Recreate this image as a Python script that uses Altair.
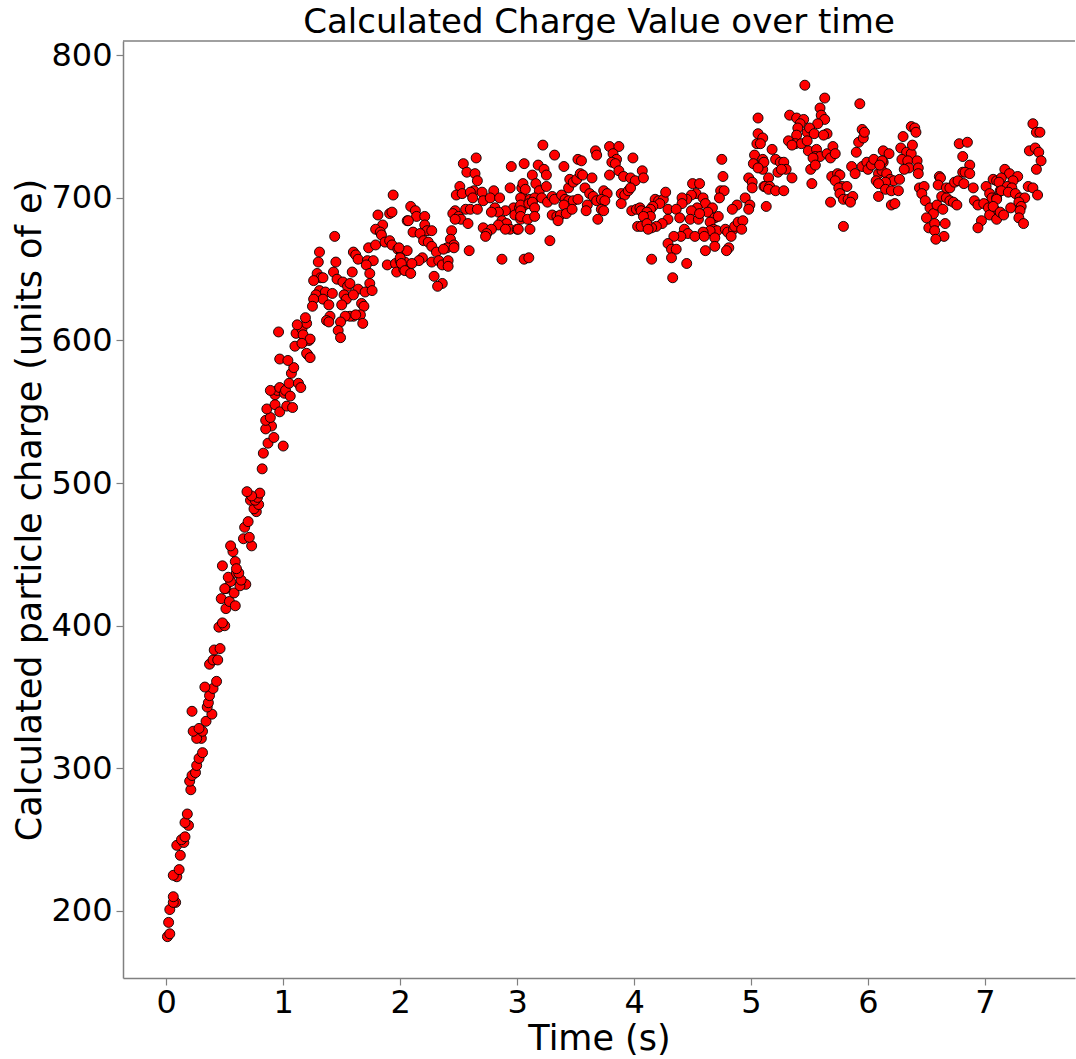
import altair as alt
import pandas as pd

# (time in s, charge in units of e), grouped by time span
seg_a = [(0.01,182),(0.03,184),(0.02,192),(0.03,201),(0.08,206),(0.06,206),(0.06,210),(0.09,224),(0.06,225),(0.11,229),
         (0.12,239),(0.09,246),(0.15,248),(0.13,250),(0.16,252),(0.19,260),(0.16,262),(0.18,268),(0.21,285),(0.20,291),
         (0.22,295),(0.25,297),(0.26,302),(0.28,307),(0.31,311),(0.30,321),(0.26,321),(0.23,326),(0.31,326),(0.28,328),
         (0.22,340),(0.34,333),(0.39,338),(0.35,343),(0.36,346),(0.37,351),(0.40,356),(0.33,357),(0.43,361),(0.37,373),
         (0.40,376),(0.44,376),(0.41,383),(0.46,384),(0.45,399),(0.50,400),(0.48,402),(0.47,419),(0.51,412),(0.54,417),
         (0.59,414),(0.51,426),(0.58,423),(0.55,431),(0.53,434),(0.48,442),(0.60,437),(0.59,445)]
seg_b = [(0.50,426),(0.68,429),(0.63,428),(0.64,432),(0.62,437),(0.60,440),(0.57,452),(0.55,456),(0.73,456),(0.66,461),
         (0.71,462),(0.67,469),(0.70,473),(0.77,480),(0.75,482),(0.79,485),(0.72,488),(0.76,488),(0.78,490),(0.80,493),
         (0.73,491),(0.69,494),(0.82,510),(0.83,521),(0.87,528),(1.00,526),(0.92,532),(0.90,540),(0.85,538),(0.85,544),
         (0.89,546),(0.86,552),(0.93,555),(0.97,550),(1.03,554),(1.08,553),(0.93,562),(0.95,565),(0.89,565),(0.97,567),
         (1.01,563),(1.02,565),(1.06,561),(1.05,570),(1.13,570),(1.15,567),(1.07,577),(1.09,581),(0.97,587),(1.04,586),
         (0.96,606),(1.10,596),(1.11,605),(1.16,608),(1.17,599),(1.20,612),(1.12,611),(1.19,616),(1.21,590),(1.22,600)]
seg_c = [(1.94,702),(1.44,673),(1.81,688),(1.91,689),(1.93,690),(2.06,684),(1.85,681),(1.79,678),(1.83,676),(1.84,674),
         (1.31,662),(1.60,662),(1.62,660),(1.64,657),(1.73,665),(1.79,667),(1.87,669),(1.91,670),(1.93,667),(1.98,664),
         (2.01,662),(2.06,663),(1.30,655),(1.45,655),(1.72,656),(1.77,656),(1.71,653),(1.89,653),(1.96,654),(2.00,656),
         (2.04,655),(1.97,648),(2.03,650),(2.07,649),(1.74,647),(1.59,648),(1.29,647),(1.32,644),(1.34,644),(1.26,642),
         (1.43,648),(1.46,643),(1.51,641),(1.55,638),(1.57,640),(1.74,640),(1.64,636),(1.70,634),(1.76,635),(1.31,635),
         (1.36,634),(1.42,633),(1.28,632),(1.34,629),(1.26,629),(1.52,632),(1.54,629),(1.60,632),(1.25,624),(1.39,625),
         (1.50,625),(1.67,626),(1.69,624),(1.66,618),(1.60,617),(1.57,617),(1.53,617),(1.62,618),(1.40,617),(1.37,614),
         (1.39,613),(1.49,613),(1.68,612),(1.47,607),(1.49,602),(1.17,604),(1.23,601),(1.16,598),(1.20,591),(1.23,588)]
seg_d = [(2.95,722),(2.54,724),(2.57,718),(2.64,717),(2.66,712),(2.51,708),(2.48,702),(2.53,703),(2.94,707),(2.63,705),
         (2.60,704),(2.70,704),(2.80,705),(2.62,700),(2.71,698),(2.77,700),(2.85,700),(3.04,707),(3.05,700),(2.97,693),
         (3.02,693),(3.05,694),(2.81,693),(2.90,691),(2.84,690),(2.78,690),(2.56,692),(2.60,692),(2.66,692),(2.47,691),
         (2.45,689),(2.50,687),(2.52,685),(2.47,685),(2.58,682),(2.98,688),(3.03,685),(2.87,684),(2.91,682),(2.84,681),
         (2.94,678),(3.00,678),(2.90,678),(2.71,679),(2.78,678),(2.74,675),(2.73,673),(2.87,657),(2.59,663),(2.44,677),
         (2.43,671),(2.46,667),(2.09,694),(2.13,691),(2.14,687),(2.21,687),(2.07,684),(2.21,681),(2.23,677),(2.27,677),
         (2.11,676),(2.17,675),(2.20,670),(2.24,669),(2.27,666),(2.31,662),(2.40,665),(2.37,664),(2.46,665),(2.19,658),
         (2.16,656),(2.10,654),(2.27,655),(2.33,656),(2.36,653),(2.41,656),(2.41,652),(1.99,665),(2.00,658),(2.01,654),
         (2.04,649),(2.09,647),(2.29,645),(2.36,640),(2.32,638),(3.06,657),(2.65,728)]
seg_e = [(3.22,737),(3.32,730),(3.40,722),(3.06,724),(3.18,723),(3.23,720),(3.25,716),(3.13,716),(3.05,710),(3.07,706),
         (3.16,710),(3.19,705),(3.25,708),(3.03,700),(3.11,699),(3.15,700),(3.21,700),(3.26,697),(3.03,695),(3.10,696),
         (3.13,697),(3.15,693),(3.03,691),(3.03,687),(3.09,685),(3.15,687),(3.01,678),(3.11,678),(3.28,670),(3.10,658),
         (3.30,701),(3.32,699),(3.38,702),(3.41,699),(3.44,698),(3.40,695),(3.48,698),(3.52,699),(3.30,688),(3.34,687),
         (3.37,688),(3.35,684),(3.42,689),(3.47,692),(3.44,707),(3.45,713),(3.48,711),(3.51,713),(3.54,717),(3.56,716),
         (3.52,727),(3.55,726),(3.64,714),(3.58,707),(3.62,703),(3.65,701),(3.68,698),(3.74,705),(3.77,703),(3.72,699),
         (3.75,698),(3.60,695),(3.59,691),(3.72,692),(3.74,691),(3.69,685),(3.67,733),(3.68,730),(3.79,736),(3.87,736),
         (3.82,731),(3.85,727),(3.81,725),(3.84,724),(3.99,728),(3.79,716),(3.87,719),(3.91,715),(3.97,714),(4.01,712),
         (4.07,719),(3.89,703),(3.92,702),(3.95,705),(3.97,707),(3.89,696),(3.98,691),(4.02,692),(4.05,693),(4.03,680),
         (4.06,680),(4.08,689)]
seg_f = [(5.05,738),(5.03,730),(5.09,724),(5.02,724),(5.10,720),(4.98,714),(5.01,711),(5.01,707),(5.11,708),(4.75,727),
         (4.76,715),(4.74,705),(4.77,705),(4.73,700),(4.95,700),(4.99,695),(4.98,692),(4.88,695),(4.84,692),(4.08,714),
         (4.50,710),(4.56,710),(4.53,703),(4.49,702),(4.45,699),(4.41,700),(4.41,696),(4.59,700),(4.61,696),(4.67,693),
         (4.63,690),(4.54,693),(4.49,691),(4.48,685),(4.55,685),(4.56,689),(4.18,699),(4.21,698),(4.25,699),(4.27,704),
         (4.22,696),(4.16,694),(4.14,692),(4.06,691),(4.11,690),(4.14,687),(4.08,687),(4.29,692),(4.36,692),(4.29,685),
         (4.24,682),(4.19,680),(4.15,679),(4.11,682),(4.12,678),(4.39,686),(4.69,686),(4.72,687),(4.65,683),(4.68,678),
         (4.71,677),(4.65,677),(4.59,676),(4.78,678),(4.80,676),(4.85,678),(4.86,680),(4.89,683),(4.93,684),(4.92,678),
         (4.83,673),(4.43,678),(4.46,675),(4.40,673),(4.34,673),(4.52,673),(4.60,673),(4.69,672),(4.69,666),(4.29,668),
         (4.32,664),(4.36,664),(4.32,658),(4.81,665),(4.79,663),(4.61,663),(4.15,657),(4.45,654),(4.33,644)]
seg_g = [(5.46,779),(5.63,770),(5.93,766),(5.59,763),(5.60,758),(5.63,755),(5.33,758),(5.39,756),(5.45,755),(5.42,752),
         (5.57,752),(5.40,749),(5.39,744),(5.48,746),(5.50,749),(5.54,745),(5.65,745),(5.62,744),(5.32,740),(5.38,738),
         (5.43,738),(5.48,740),(5.35,737),(5.49,733),(5.56,734),(5.55,729),(5.59,729),(5.65,731),(5.68,728),(5.70,736),
         (5.72,731),(5.53,728),(5.51,720),(5.55,723),(5.06,756),(5.06,745),(5.10,742),(5.08,738),(5.10,727),(5.11,725),
         (5.06,721),(5.18,734),(5.21,727),(5.25,725),(5.28,725),(5.30,720),(5.23,718),(5.26,720),(5.35,714),(5.15,714),
         (5.12,708),(5.16,708),(5.15,706),(5.21,705),(5.28,705),(5.13,694),(5.52,710),(5.69,715),(5.74,717),(5.76,716),
         (5.72,712),(5.78,708),(5.75,707),(5.82,708),(5.68,697),(5.76,703),(5.79,699),(5.83,699),(5.87,701),(5.85,697),
         (5.79,680),(5.86,722),(5.89,717),(5.95,722),(5.99,725),(6.00,720),(6.03,723),(6.05,727),(6.09,717),(6.07,712),
         (6.12,719),(6.13,725),(5.90,732),(5.92,739),(5.96,742),(5.95,748),(5.97,746)]
seg_h = [(6.30,743),(6.37,750),(6.40,749),(6.41,746),(6.78,738),(6.85,739),(6.81,729),(6.87,723),(6.13,733),(6.18,731),
         (6.12,726),(6.10,723),(6.28,735),(6.33,732),(6.37,731),(6.38,737),(6.29,727),(6.34,726),(6.42,726),(6.35,721),
         (6.31,720),(6.43,721),(6.43,717),(6.16,717),(6.19,713),(6.22,712),(6.27,713),(6.15,711),(6.09,710),(6.15,706),
         (6.20,705),(6.26,705),(6.09,701),(6.20,695),(6.23,696),(6.44,707),(6.48,708),(6.46,703),(6.49,698),(6.61,715),
         (6.62,714),(6.60,709),(6.53,693),(6.56,689),(6.50,686),(6.52,679),(6.57,682),(6.57,677),(6.59,695),(6.64,692),
         (6.66,682),(6.65,673),(6.58,671),(6.63,701),(6.67,700),(6.70,698),(6.73,697),(6.76,695),(6.67,707),(6.70,707),
         (6.74,711),(6.77,712),(6.81,718),(6.83,718),(6.87,717),(6.82,710),(6.90,707),(7.07,713),(7.10,712),(7.01,708),
         (7.04,703),(7.06,700),(7.10,700),(7.13,705),(6.91,698),(6.94,695),(6.99,696),(7.03,693),(7.08,692),(7.04,688),
         (7.10,685),(6.97,684),(6.94,679)]
seg_i = [(7.41,752),(7.44,746),(7.47,746),(7.38,733),(7.43,735),(7.46,732),(7.48,726),(7.44,720),(7.37,708),(7.41,707),
         (7.45,702),(7.17,720),(7.21,717),(7.28,715),(7.14,714),(7.24,712),(7.12,711),(7.19,708),(7.23,707),(7.14,705),
         (7.20,704),(7.26,703),(7.30,700),(7.34,700),(7.29,697),(7.31,694),(7.22,693),(7.30,691),(7.10,699),(7.07,694),
         (7.13,690),(7.16,688),(7.29,686),(7.33,682)]

x_ticks = [0, 1, 2, 3, 4, 5, 6, 7]
y_ticks = [200, 300, 400, 500, 600, 700, 800]

segments = [seg_a, seg_b, seg_c, seg_d, seg_e, seg_f, seg_g, seg_h, seg_i]
df = pd.DataFrame([{"time": t, "charge": v} for seg in segments for t, v in seg])

FONT = "DejaVu Sans"
W, H = 952, 937
SPINE = "#808080"

points = alt.Chart(df).mark_circle(
    size=100, fill="#ff0000", fillOpacity=1, stroke="black", strokeWidth=0.9, strokeOpacity=1
).encode(
    x=alt.X("time:Q", scale=alt.Scale(domain=[-0.37, 7.77], nice=False, zero=False),
            axis=alt.Axis(title="Time (s)", values=x_ticks, format="d")),
    y=alt.Y("charge:Q", scale=alt.Scale(domain=[153, 810], nice=False, zero=False),
            axis=alt.Axis(title="Calculated particle charge (units of e)", values=y_ticks, format="d")),
)

top_spine = alt.Chart(pd.DataFrame({"k": [0]})).mark_rule(color=SPINE, strokeWidth=1.5).encode(
    x=alt.value(0), x2=alt.value(W), y=alt.value(0)
)

chart = alt.layer(points, top_spine).properties(
    width=W, height=H,
    title=alt.Title("Calculated Charge Value over time", font=FONT, fontSize=34,
                    fontWeight="normal", color="black", anchor="middle", offset=-1),
    autosize="none",
    padding={"left": 123, "top": 41, "right": 1, "bottom": 81},
).configure_view(stroke=None).configure_axis(
    grid=False, domainColor=SPINE, domainWidth=1.5, tickColor=SPINE, tickSize=7, tickWidth=1.2,
    labelFont=FONT, labelFontSize=32, labelColor="black", labelPadding=2,
    titleFont=FONT, titleFontSize=35, titleFontWeight="normal", titleColor="black",
).configure_axisX(titlePadding=3).configure_axisY(titlePadding=3, labelPadding=4)

chart.save("out.html", embed_options={"renderer": "svg", "actions": False})
